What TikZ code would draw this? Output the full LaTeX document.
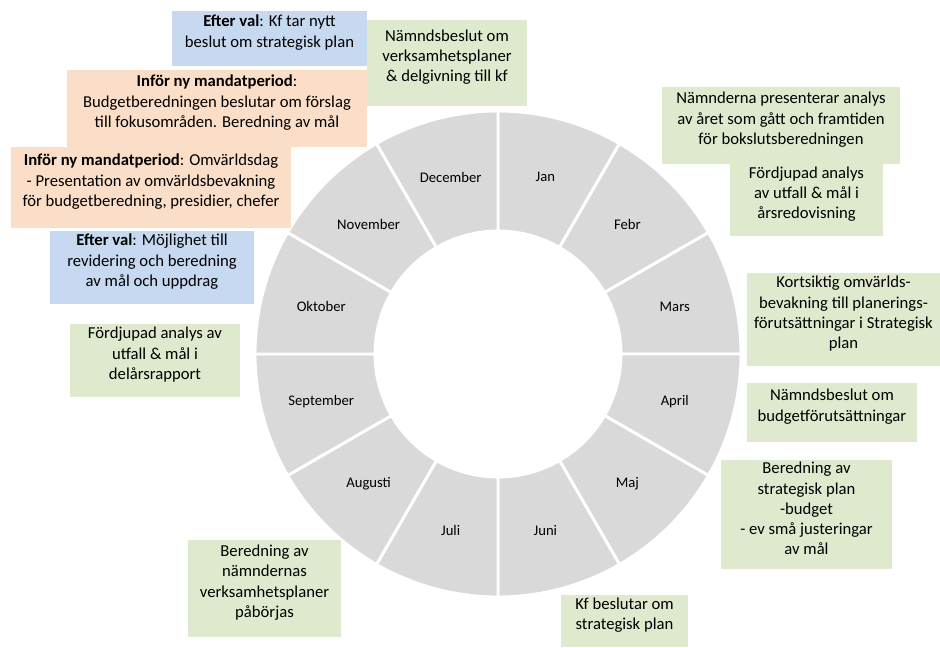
\documentclass[tikz,border=0pt]{standalone}
\usepackage{fontspec}
\setmainfont{Carlito}
\usepackage{tikz}
\usetikzlibrary{fit}
\definecolor{ringgray}{RGB}{217,217,217}
\definecolor{hdrgreen}{RGB}{222,233,205}
\definecolor{hdrblue}{RGB}{198,217,240}
\definecolor{hdrorange}{RGB}{251,222,199}
\tikzset{
  evbox/.style={rectangle, inner sep=0pt, align=center,
    font=\fontsize{12.5}{15.2}\selectfont},
  grnbox/.style={evbox, fill=hdrgreen},
  blubox/.style={evbox, fill=hdrblue},
  orgbox/.style={evbox, fill=hdrorange},
  sector/.style={fill=ringgray, draw=white, line width=2.2pt},
  month/.style={font=\fontsize{11}{13}\selectfont}
}

\begin{document}
\begin{tikzpicture}[x=0.75pt, y=-0.75pt]
  \useasboundingbox (0,0) rectangle (940,647);

  % ── Year wheel ─────────────────────────────────────────────────────────────
  \begin{scope}[shift={(498,354)}, yscale=-1]
    \foreach \m [count=\i] in {Jan,Febr,Mars,April,Maj,Juni,Juli,Augusti,
        September,Oktober,November,December}{
      \pgfmathsetmacro\a{90-30*\i}
      \filldraw[sector] (\a:123) arc[start angle=\a, end angle=\a+30, radius=123]
        -- (\a+30:243) arc[start angle=\a+30, end angle=\a, radius=243] -- cycle;
      \node[month] (m\i) at (\a+15:183) {\m};
    }
  \end{scope}

  % ── Left side: election year and autumn ────────────────────────────────────
  \node[blubox, fit={(172,11) (367,66)}] (valkf)
    {\textbf{Efter val}: Kf tar nytt\\beslut om strategisk plan};
  \node[grnbox, fit={(367,20) (527,106)}] (vpbeslut)
    {Nämndsbeslut om\\verksamhetsplaner\\\& delgivning till kf};
  \node[orgbox, fit={(67,70) (367,147)}] (mandat1)
    {\textbf{Inför ny mandatperiod}:\\Budgetberedningen beslutar om förslag\\till fokusområden. Beredning av mål};
  \node[orgbox, fit={(11,147) (291,228)}] (mandat2)
    {\textbf{Inför ny mandatperiod}: Omvärldsdag\\- Presentation av omvärldsbevakning\\för budgetberedning, presidier, chefer};
  \node[blubox, fit={(50,231) (254,304)}] (valmal)
    {\textbf{Efter val}: Möjlighet till\\revidering och beredning\\av mål och uppdrag};
  \node[grnbox, fit={(70,324) (240,397)}] (delar)
    {Fördjupad analys av\\utfall \& mål i\\delårsrapport};
  \node[grnbox, fit={(188,540) (341,637)}] (vpstart)
    {Beredning av\\nämndernas\\verksamhetsplaner\\påbörjas};

  % ── Right side: spring ─────────────────────────────────────────────────────
  \node[grnbox, fit={(662,87) (900,164)}] (bokslut)
    {Nämnderna presenterar analys\\av året som gått och framtiden\\för bokslutsberedningen};
  \node[grnbox, fit={(730,164) (883,236)}] (arsred)
    {Fördjupad analys\\av utfall \& mål i\\årsredovisning};
  \node[grnbox, fit={(747,273) (940,366)}] (omvarld)
    {Kortsiktig omvärlds-\\bevakning till planerings-\\förutsättningar i Strategisk\\plan};
  \node[grnbox, fit={(747,383) (917,442)}] (budget)
    {Nämndsbeslut om\\budgetförutsättningar};
  \node[grnbox, fit={(721,460) (892,569)}] (strplan)
    {Beredning av\\strategisk plan\\-budget\\- ev små justeringar\\av mål};
  \node[grnbox, fit={(561,595) (688,647)}] (kfbeslut)
    {Kf beslutar om\\strategisk plan};
\end{tikzpicture}
\end{document}
